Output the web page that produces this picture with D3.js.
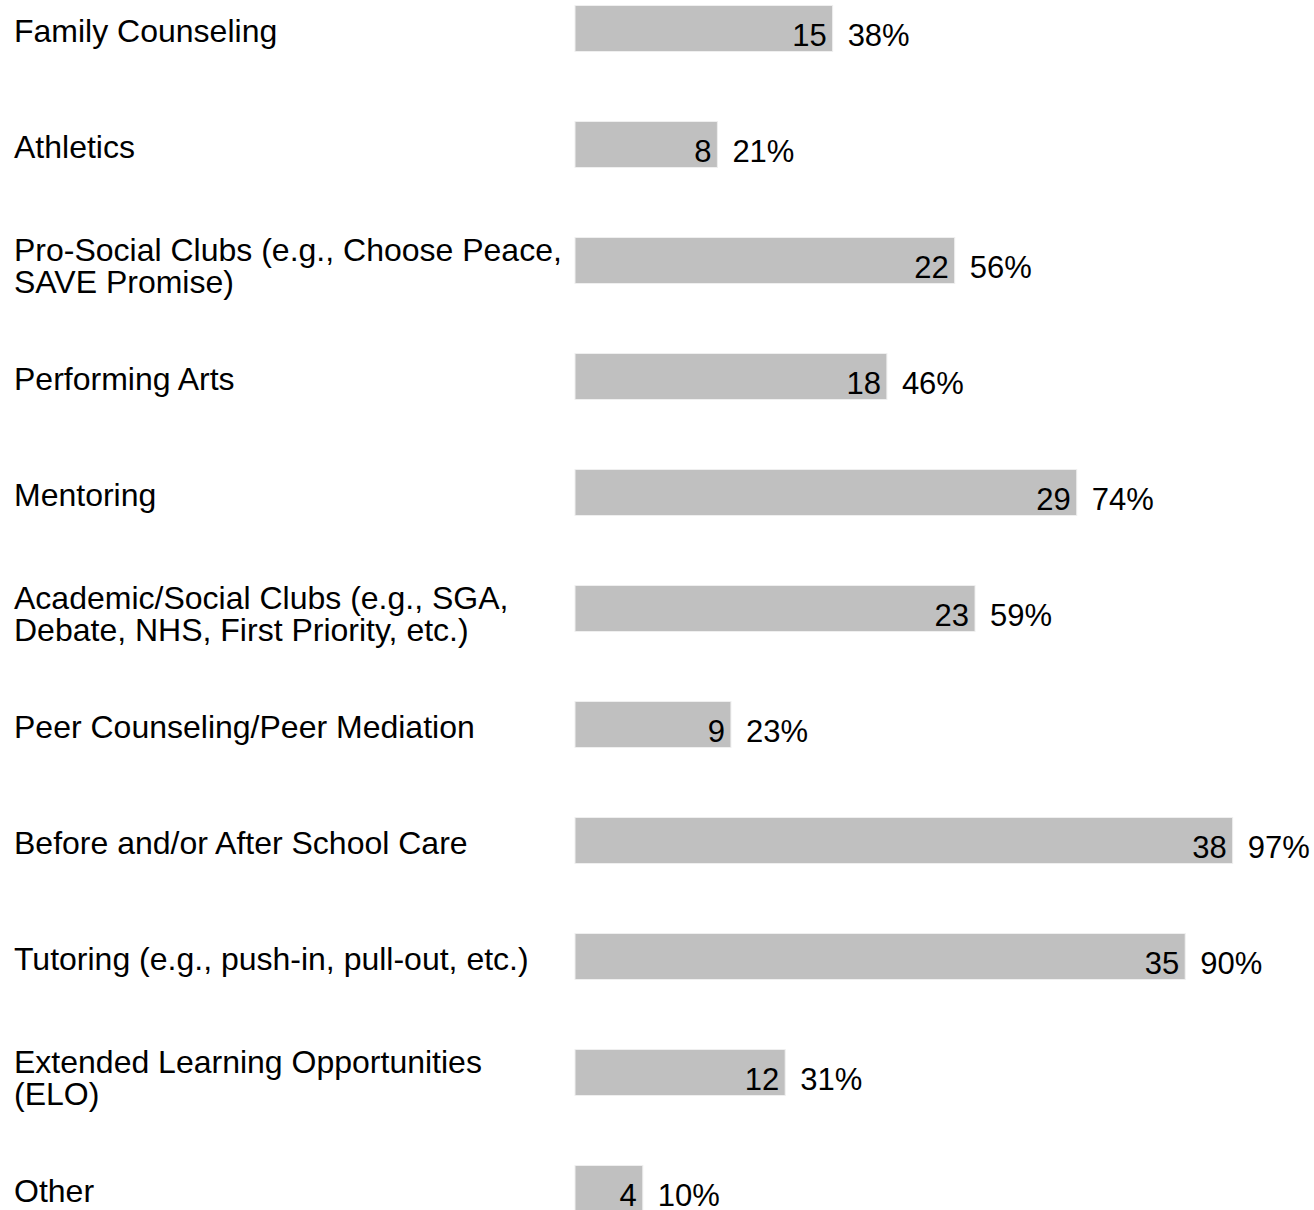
<!DOCTYPE html>
<html lang="en">
<head>
  <meta charset="UTF-8">
  <title>Programs</title>
  <script src="https://cdn.jsdelivr.net/npm/d3@7"></script>
  <style>
    body { margin: 0; background: #fff; }
    svg { display: block; }
  </style>
</head>
<body>
  <svg id="chart" width="1314" height="1210"></svg>
  <script>
    // categories (each entry = lines of the label)
    let categories = [
      ['Family Counseling'],
      ['Athletics'],
      ['Pro-Social Clubs (e.g., Choose Peace,', 'SAVE Promise)'],
      ['Performing Arts'],
      ['Mentoring'],
      ['Academic/Social Clubs (e.g., SGA,', 'Debate, NHS, First Priority, etc.)'],
      ['Peer Counseling/Peer Mediation'],
      ['Before and/or After School Care'],
      ['Tutoring (e.g., push-in, pull-out, etc.)'],
      ['Extended Learning Opportunities', '(ELO)'],
      ['Other']
    ];
    let counts = [15, 8, 22, 18, 29, 23, 9, 38, 35, 12, 4];
    let percents = [38, 21, 56, 46, 74, 59, 23, 97, 90, 31, 10];

    let svg = d3.select('#chart');
    let font = 'Liberation Sans, Arial, sans-serif';

    let data = categories.map((c, i) => ({ label: c, count: counts[i], pct: percents[i], i: i }));

    // step 116, bar height 46
    let yScale = d3.scaleBand()
      .domain(d3.range(data.length))
      .range([5.5, 1211.5])
      .paddingInner(70 / 116)
      .paddingOuter(0);

    let xScale = d3.scaleLinear()
      .domain([0, 100])
      .range([575, 1253]);

    // bars
    svg.selectAll('rect.bar')
      .data(data)
      .enter()
      .append('rect')
      .attr('class', 'bar')
      .attr('x', xScale(0))
      .attr('y', d => yScale(d.i))
      .attr('width', d => xScale(d.pct) - xScale(0))
      .attr('height', yScale.bandwidth())
      .attr('fill', '#c0c0c0')
      .attr('stroke', '#efefef')
      .attr('stroke-width', 1);

    // count labels inside the bar end
    svg.selectAll('text.count')
      .data(data)
      .enter()
      .append('text')
      .attr('class', 'count')
      .attr('x', d => xScale(d.pct) - 6)
      .attr('y', d => yScale(d.i) + 40)
      .attr('text-anchor', 'end')
      .style('font-family', font)
      .style('font-size', '31px')
      .attr('fill', '#000')
      .text(d => d.count);

    // percent labels after bar
    svg.selectAll('text.pct')
      .data(data)
      .enter()
      .append('text')
      .attr('class', 'pct')
      .attr('x', d => xScale(d.pct) + 15)
      .attr('y', d => yScale(d.i) + 40)
      .style('font-family', font)
      .style('font-size', '31px')
      .attr('fill', '#000')
      .text(d => d.pct + '%');

    // category labels
    let labels = svg.selectAll('text.cat')
      .data(data)
      .enter()
      .append('text')
      .attr('class', 'cat')
      .style('font-family', font)
      .style('font-size', '32px')
      .attr('fill', '#000');

    labels.each(function (d) {
      let t = d3.select(this);
      let top = yScale(d.i);
      if (d.label.length === 1) {
        t.append('tspan').attr('x', 14).attr('y', top + 36).text(d.label[0]);
      } else {
        d.label.forEach((line, k) => {
          t.append('tspan').attr('x', 14).attr('y', top + 23 + k * 32).text(line);
        });
      }
    });
  </script>
</body>
</html>
